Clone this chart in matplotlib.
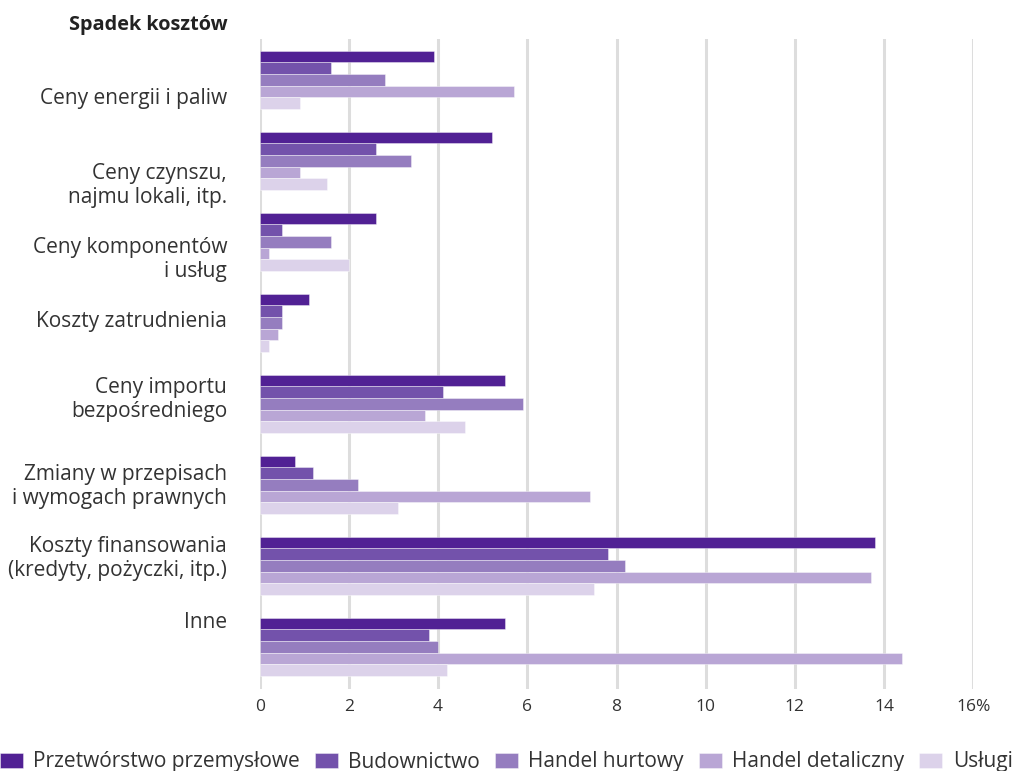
import matplotlib
matplotlib.use("Agg")
import matplotlib.pyplot as plt
import matplotlib.transforms as mtransforms
import numpy as np

plt.rcParams['font.family'] = ['Open Sans', 'DejaVu Sans']

categories = [
    "Ceny energii i paliw",
    "Ceny czynszu,\nnajmu lokali, itp.",
    "Ceny komponentów\ni usług",
    "Koszty zatrudnienia",
    "Ceny importu\nbezpośredniego",
    "Zmiany w przepisach\ni wymogach prawnych",
    "Koszty finansowania\n(kredyty, pożyczki, itp.)",
    "Inne",
]
series_names = ["Przetwórstwo przemysłowe", "Budownictwo", "Handel hurtowy",
                "Handel detaliczny", "Usługi"]
przetworstwo = [3.9, 5.2, 2.6, 1.1, 5.5, 0.8, 13.8, 5.5]
budownictwo = [1.6, 2.6, 0.5, 0.5, 4.1, 1.2, 7.8, 3.8]
handel_hurtowy = [2.8, 3.4, 1.6, 0.5, 5.9, 2.2, 8.2, 4.0]
handel_detaliczny = [5.7, 0.9, 0.2, 0.4, 3.7, 7.4, 13.7, 14.4]
uslugi = [0.9, 1.5, 2.0, 0.2, 4.6, 3.1, 7.5, 4.2]
x_ticks = [0, 2, 4, 6, 8, 10, 12, 14, 16]
x_tick_labels = ["0", "2", "4", "6", "8", "10", "12", "14", "16%"]
title = "Spadek kosztów"

series = [przetworstwo, budownictwo, handel_hurtowy, handel_detaliczny, uslugi]
colors = ["#512194", "#7352ab", "#957dbf", "#b9a6d5", "#dcd2ea"]
# vertical pixel nudges of category labels (style only)
label_nudge_px = [19, 24.5, 17.5, -1, -4.5, 2, -7, -24]

fig = plt.figure(figsize=(10.13, 7.71), dpi=100)
ax = fig.add_axes([259.7 / 1013, 1 - 689 / 771, (973.3 - 259.7) / 1013, (689 - 39) / 771])

n = len(categories)
bar_h = 0.1444
y0 = np.arange(n)
for k, (vals, col, name) in enumerate(zip(series, colors, series_names)):
    ypos = y0 - 2.5 * bar_h + (k + 0.5) * bar_h
    ax.barh(ypos, vals, height=bar_h, color=col, label=name,
            edgecolor=(1, 1, 1, 0.45), linewidth=0.6, zorder=3)

ax.set_xlim(0, 16)
ax.set_ylim(7.52, -0.505)
ax.set_xticks(x_ticks)
ax.set_xticklabels(x_tick_labels)
ax.set_yticks([])
ax.tick_params(axis='x', length=0, pad=7, labelsize=12.5, labelcolor="#333333")
for s in ax.spines.values():
    s.set_visible(False)
ax.grid(axis='x', color="#dddddd", linewidth=2.2, zorder=0)
ax.grid(axis='y', visible=False)

# category labels
base = mtransforms.blended_transform_factory(fig.transFigure, ax.transData)
for i, (lab, nud) in enumerate(zip(categories, label_nudge_px)):
    tr = base + mtransforms.ScaledTranslation(0, -nud / 100, fig.dpi_scale_trans)
    ax.text(227 / 1013, i, lab, transform=tr, ha='right', va='center',
            fontsize=15, color="#333333", linespacing=1.2, clip_on=False)

fig.text(228 / 1013, 1 - 25 / 771, title, ha='right', va='center',
         fontsize=14.3, fontweight='bold', color="#222222")

leg = fig.legend(loc='center left', bbox_to_anchor=(0.0, 1 - 762 / 771), ncol=5,
                 frameon=False, fontsize=15, handlelength=1.1, handleheight=0.75,
                 handletextpad=0.5, columnspacing=0.72, borderpad=0, borderaxespad=0)
for t in leg.get_texts():
    t.set_color("#333333")

fig.savefig("out.png", dpi=100)
